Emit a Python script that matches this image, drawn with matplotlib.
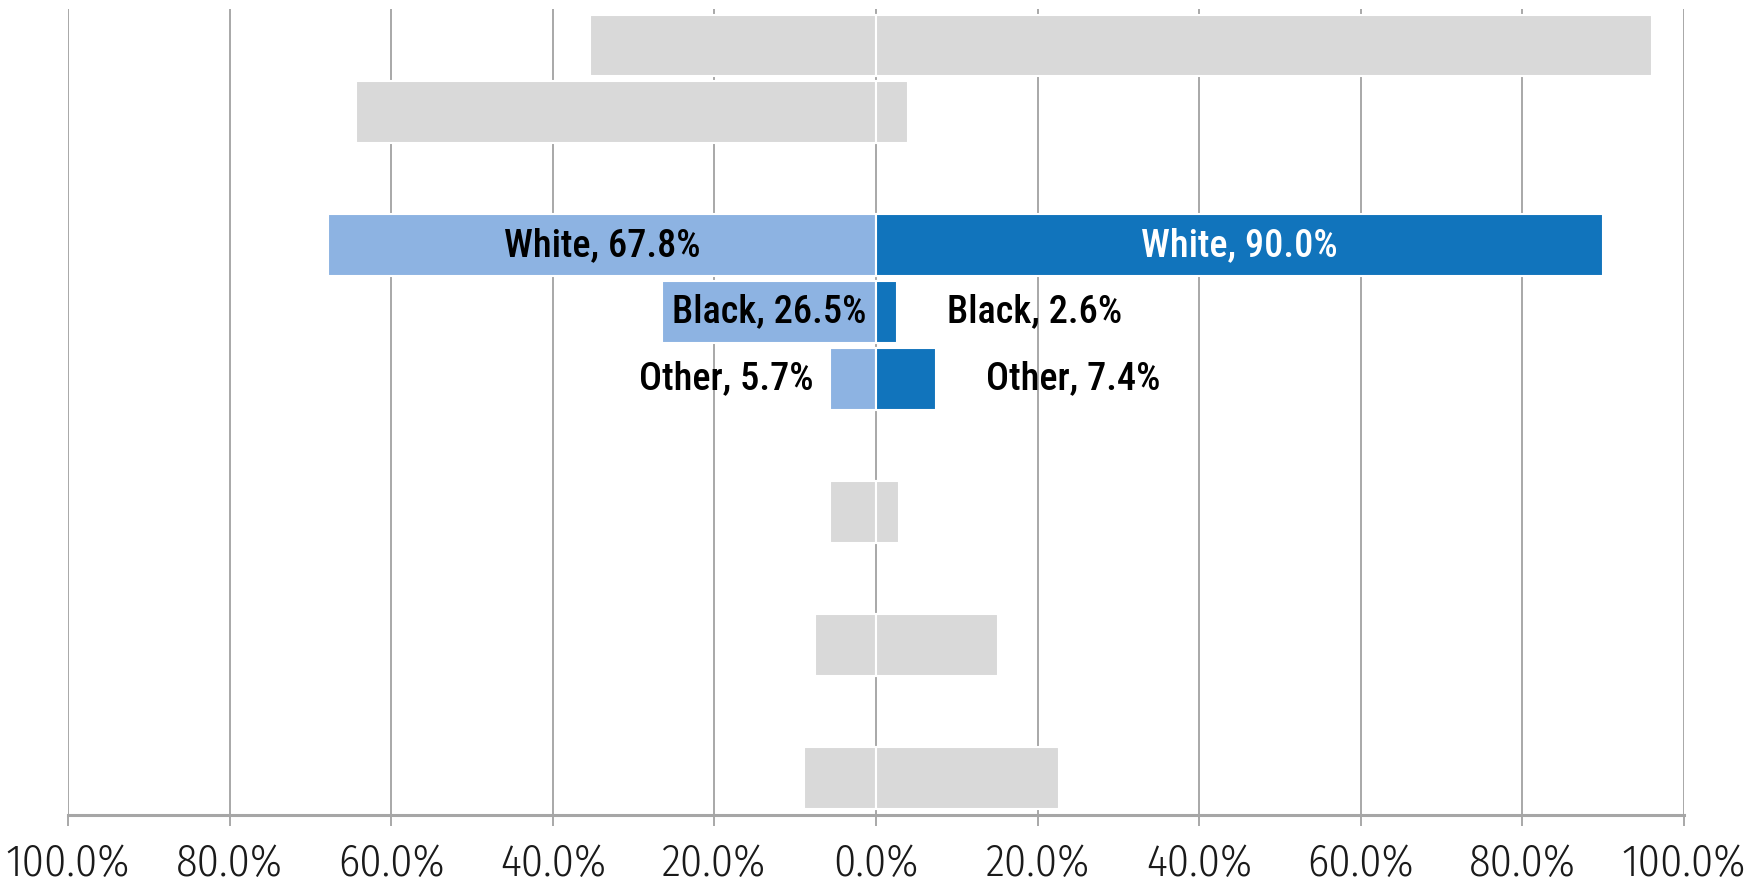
import numpy as np
import matplotlib
matplotlib.use("Agg")
import matplotlib.pyplot as plt

# one slot per row, top to bottom; None = empty slot
left_pct = [35.4, 64.4, None, 67.8, 26.5, 5.7, None, 5.7, None, 7.5, None, 8.9]
right_pct = [96.0, 3.9, None, 90.0, 2.6, 7.4, None, 2.8, None, 15.1, None, 22.6]
race = ["", "", "", "White", "Black", "Other", "", "", "", "", "", ""]

ticks = [-100, -80, -60, -40, -20, 0, 20, 40, 60, 80, 100]

GRAY = "#D9D9D9"
LIGHT = "#8DB3E2"
DARK = "#1174BC"
LBL_FONT = ["Roboto Condensed", "DejaVu Sans"]
TICK_FONT = ["Fira Sans Condensed", "DejaVu Sans"]

fig = plt.figure(figsize=(17.58, 8.84), dpi=100)
ax = fig.add_axes([0.0387, 0.078, 0.9192, 0.912])

for i, (l, r, name) in enumerate(zip(left_pct, right_pct, race)):
    if l is None:
        continue
    lc = LIGHT if name else GRAY
    rc = DARK if name else GRAY
    ax.barh(i, -l, height=0.93, color=lc, edgecolor="white", linewidth=1.5, zorder=3)
    ax.barh(i, r, height=0.93, color=rc, edgecolor="white", linewidth=1.5, zorder=3)

# data labels for the race rows
kw = dict(fontsize=27.5, fontweight=500, family=LBL_FONT, va="center", zorder=5)
for i, (l, r, name) in enumerate(zip(left_pct, right_pct, race)):
    if not name:
        continue
    ltxt = f"{name}, {l:.1f}%"
    rtxt = f"{name}, {r:.1f}%"
    if l > 15:
        ax.text(-l / 2, i, ltxt, ha="center", color="black", **kw)
    else:
        ax.annotate(ltxt, (-l, i), xytext=(-12, 0), textcoords="offset points",
                    ha="right", color="black", **kw)
    if r > 15:
        ax.text(r / 2, i, rtxt, ha="center", color="white", **kw)
    else:
        ax.annotate(rtxt, (r, i), xytext=(36, 0), textcoords="offset points",
                    ha="left", color="black", **kw)

ax.set_xlim(-100, 100)
ax.set_ylim(len(left_pct) - 0.45, -0.55)
ax.set_xticks(ticks)
ax.set_xticklabels([f"{abs(t):.1f}%" for t in ticks])
for t in ax.get_xticklabels():
    t.set_family(TICK_FONT)
    t.set_fontweight(300)
    t.set_fontsize(32)
    t.set_color("#1a1a1a")
ax.set_yticks([])
ax.grid(axis="x", color="#9A9A9A", linewidth=1.2, zorder=0)
ax.set_axisbelow(True)
for s in ["top", "left", "right"]:
    ax.spines[s].set_visible(False)
ax.spines["bottom"].set_color("#A6A6A6")
ax.spines["bottom"].set_linewidth(2.2)
ax.tick_params(axis="x", length=8, width=1.2, color="#9A9A9A", pad=12)

fig.savefig("out.png", dpi=100, facecolor="white")
